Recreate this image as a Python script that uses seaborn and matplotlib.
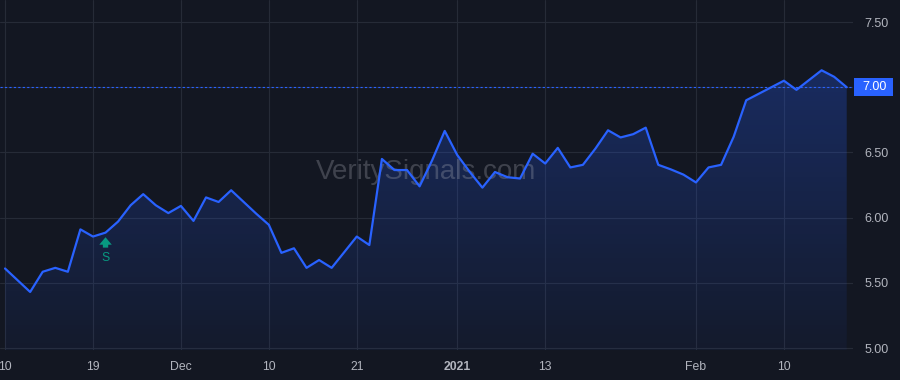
import numpy as np
import pandas as pd
import matplotlib
matplotlib.use("Agg")
import matplotlib.pyplot as plt
import matplotlib.transforms as mtransforms
from matplotlib.patches import Polygon, Rectangle
from matplotlib.colors import LinearSegmentedColormap
import seaborn as sns

# closing prices, one per trading day (Nov 10 2020 -> Feb 2021)
prices = [5.61, 5.52, 5.43, 5.585, 5.615, 5.585, 5.91, 5.855, 5.885, 5.97,
          6.095, 6.18, 6.095, 6.035, 6.09, 5.975, 6.155, 6.12, 6.21, 6.12,
          6.03, 5.945, 5.73, 5.765, 5.615, 5.675, 5.615, 5.735, 5.855, 5.79,
          6.45, 6.365, 6.365, 6.24, 6.44, 6.665, 6.48, 6.35, 6.23, 6.35,
          6.31, 6.30, 6.49, 6.415, 6.535, 6.385, 6.405, 6.53, 6.67, 6.615,
          6.64, 6.69, 6.405, 6.37, 6.33, 6.27, 6.385, 6.405, 6.62, 6.90,
          6.95, 7.00, 7.05, 6.98, 7.055, 7.13, 7.08, 7.00]
tick_idx = [0, 7, 14, 21, 28, 36, 43, 55, 62]
tick_labels = ['10', '19', 'Dec', '10', '21', '2021', '13', 'Feb', '10']
y_ticks = [5.00, 5.50, 6.00, 6.50, 7.00, 7.50]
signal_idx = 8
signal_label = 'S'
last_price = 7.00
watermark = 'VeritySignals.com'

df = pd.DataFrame({'day': np.arange(len(prices)), 'price': prices})

bg = '#131722'
grid = '#262b37'
blue = '#2962ff'
txt = '#b2b5be'
teal = '#089981'

sns.set_theme(style='dark', rc={'axes.facecolor': bg, 'figure.facecolor': bg})
plt.rcParams['font.family'] = ['Liberation Sans', 'DejaVu Sans']

fig = plt.figure(figsize=(9, 3.8), dpi=100)
ax = fig.add_axes([0, 30 / 380, 853 / 900, 350 / 380])

ylo, yhi = 4.985, 7.669
xlo, xhi = -0.4, len(prices) - 0.5

# gradient area under the line
verts = [(0, ylo)] + list(zip(df.day, df.price)) + [(df.day.iloc[-1], ylo)]
poly = Polygon(verts, closed=True, facecolor='none', edgecolor='none')
ax.add_patch(poly)
cmap = LinearSegmentedColormap.from_list('fade', [(0.16, 0.38, 1.0, 0.05), (0.16, 0.38, 1.0, 0.28)])
grad = np.linspace(0, 1, 256).reshape(-1, 1)
im = ax.imshow(grad, aspect='auto', cmap=cmap, origin='lower',
               extent=[0, df.day.iloc[-1], ylo, max(prices)], zorder=1)
im.set_clip_path(poly)

sns.lineplot(data=df, x='day', y='price', color=blue, lw=1.6, ax=ax, zorder=3)

ax.axhline(last_price, color=blue, lw=0.8, ls=(0, (2, 2)), zorder=2)

ax.set_xlim(xlo, xhi)
ax.set_ylim(ylo, yhi)
ax.set_xticks(tick_idx)
ax.set_xticklabels(tick_labels)
for lab in ax.get_xticklabels():
    if lab.get_text() == '2021':
        lab.set_fontweight('bold')
ax.set_yticks(y_ticks)
ax.set_yticklabels([f'{v:.2f}' for v in y_ticks])
ax.yaxis.tick_right()
ax.tick_params(axis='x', length=0, pad=8, labelsize=8.8, labelcolor=txt)
ax.tick_params(axis='y', length=0, pad=8, labelsize=9, labelcolor=txt)
ax.grid(True, color=grid, lw=0.8)
ax.set_axisbelow(True)
for s in ax.spines.values():
    s.set_visible(False)
ax.set_xlabel('')
ax.set_ylabel('')

# watermark
ax.text(0.5, 0.509, watermark, transform=ax.transAxes, ha='center', va='center',
        fontsize=20, color=txt, alpha=0.28, zorder=2)

# signal marker
ax.annotate('', xy=(signal_idx, 5.85), xytext=(signal_idx, 5.77),
            arrowprops=dict(arrowstyle='simple,head_width=0.75,head_length=0.45,tail_width=0.32',
                            color=teal, lw=0, shrinkA=0, shrinkB=0), zorder=4)
ax.text(signal_idx, 5.69, signal_label, ha='center', va='center', fontsize=8.8, color=teal, zorder=4)

# last price label on the axis
trans = mtransforms.blended_transform_factory(fig.transFigure, ax.transData)
ax.add_patch(Rectangle((854 / 900, last_price - 0.068), 39 / 900, 0.136, transform=trans,
                       facecolor=blue, edgecolor='none', clip_on=False, zorder=5))
ax.text(875 / 900, last_price, f'{last_price:.2f}', transform=trans, ha='center', va='center',
        fontsize=9, color='white', zorder=6, clip_on=False)
ax.get_yticklabels()[y_ticks.index(last_price)].set_visible(False)

fig.savefig('out.png', dpi=100, facecolor=bg)
